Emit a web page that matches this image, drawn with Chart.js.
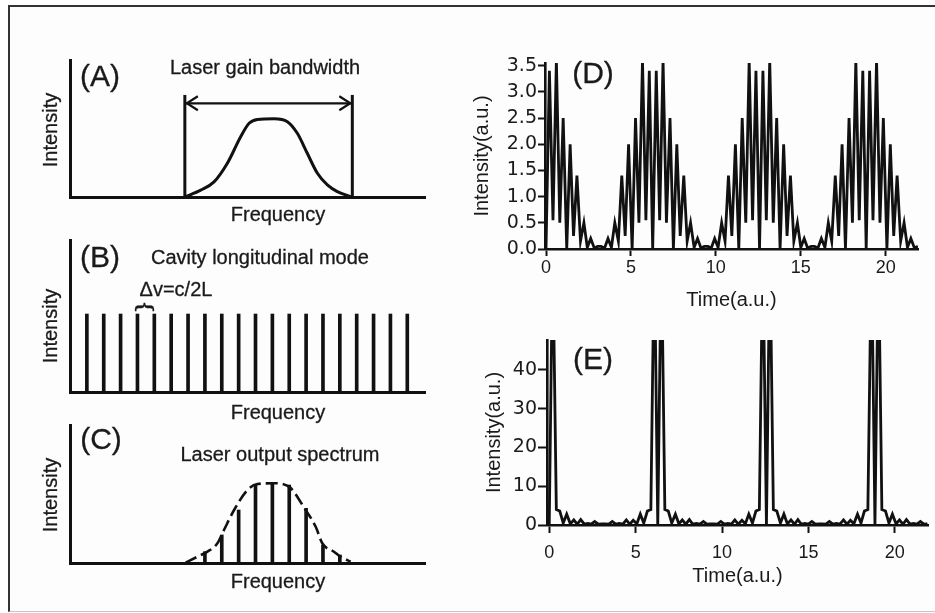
<!DOCTYPE html>
<html>
<head>
<meta charset="utf-8">
<script src="https://cdn.jsdelivr.net/npm/chart.js@4.4.1/dist/chart.umd.min.js"></script>
<style>
  body { margin:0; width:935px; height:613px; background:#fff; position:relative; overflow:hidden;
         font-family:"Liberation Sans", Arial, sans-serif; }
  #frame { position:absolute; left:8px; top:5px; width:927px; height:607px; box-sizing:border-box;
           border-left:2.5px solid #333; border-top:2.5px solid #333; border-bottom:1px solid #c6c6c6;
           background:#fdfdfd; }
  canvas { position:absolute; }
  .lbl { position:absolute; transform:translate(-50%,-50%); white-space:nowrap; line-height:1;
         color:#1a1a1a; font-size:20px; z-index:2; -webkit-text-stroke:0.3px #1a1a1a; }
  .panel { font-size:30px; }
  .rot { transform:translate(-50%,-50%) rotate(-90deg); }
  .brace { transform:translate(-50%,-50%) rotate(90deg) scaleX(1.35); font-size:20px; }
</style>
</head>
<body>
<div id="frame"></div>

<canvas id="chartA" width="420" height="185" style="left:20px;top:45px"></canvas>
<canvas id="chartB" width="420" height="180" style="left:20px;top:230px"></canvas>
<canvas id="chartC" width="420" height="160" style="left:20px;top:415px"></canvas>
<canvas id="chartD" width="465" height="270" style="left:465px;top:45px"></canvas>
<canvas id="chartE" width="470" height="280" style="left:465px;top:320px"></canvas>

<!-- tekster til de tre skitser til venstre -->
<div class="lbl panel" style="left:100px;top:76px">(A)</div>
<div class="lbl" style="left:265px;top:67px">Laser gain bandwidth</div>
<div class="lbl rot" style="left:50px;top:130px">Intensity</div>
<div class="lbl" style="left:278px;top:214px">Frequency</div>

<div class="lbl panel" style="left:100px;top:257px">(B)</div>
<div class="lbl" style="left:260px;top:257px">Cavity longitudinal mode</div>
<div class="lbl" style="left:176px;top:289px">Δv=c/2L</div>
<div class="lbl brace" style="left:146px;top:307px">{</div>
<div class="lbl rot" style="left:50px;top:326px">Intensity</div>
<div class="lbl" style="left:278px;top:412px">Frequency</div>

<div class="lbl panel" style="left:101px;top:439px">(C)</div>
<div class="lbl" style="left:280px;top:454px">Laser output spectrum</div>
<div class="lbl rot" style="left:50px;top:495px">Intensity</div>
<div class="lbl" style="left:278px;top:581px">Frequency</div>

<div class="lbl panel" style="left:593px;top:73px">(D)</div>
<div class="lbl panel" style="left:593px;top:359px">(E)</div>

<script>
// -------------------------------------------------------------
// DATA
// frekvens-aksen i (A)-(C) er talt i mode-numre, intensitet 0..1
// -------------------------------------------------------------
var gainCurveX = [6.81, 7.75, 8.54, 9.33, 10.12, 10.62, 11.11, 12.10, 12.89, 13.48, 14.07, 14.67, 15.26, 15.85, 16.72];
var gainCurveY = [0, 0.05, 0.11, 0.246, 0.44, 0.538, 0.566, 0.571, 0.55, 0.465, 0.319, 0.173, 0.088, 0.039, 0];
var gainEdges = [6.81, 16.74];
var gainEdgeTop = 0.745;
var gainArrowLevel = 0.684;

var modeNumbers = [1, 2, 3, 4, 5, 6, 7, 8, 9, 10, 11, 12, 13, 14, 15, 16, 17, 18, 19, 20];
var modeIntensity = 0.513;

var outputModes = [8, 9, 10, 11, 12, 13, 14, 15, 16];
var outputIntensity = [0.082, 0.203, 0.384, 0.565, 0.578, 0.565, 0.396, 0.13, 0.058];
var envelopeX = [6.86, 7.56, 8.15, 8.74, 9.13, 9.73, 10.52, 11.11, 12.10, 12.98, 13.97, 14.57, 14.96, 15.65, 16.05, 16.64];
var envelopeY = [0.002, 0.046, 0.082, 0.143, 0.239, 0.384, 0.529, 0.572, 0.578, 0.553, 0.384, 0.263, 0.143, 0.082, 0.046, 0.009];

// tidsakse for (D) og (E)
var sampleTimes = [
  0, 0.20, 0.41, 0.61, 0.81, 1.01, 1.22, 1.42, 1.62, 1.82,
  2.03, 2.23, 2.43, 2.63, 2.84, 3.04, 3.24, 3.45, 3.65, 3.85,
  4.05, 4.26, 4.46, 4.66, 4.86, 5.07, 5.27, 5.47, 5.68, 5.88,
  6.08, 6.28, 6.49, 6.69, 6.89, 7.09, 7.30, 7.50, 7.70, 7.90,
  8.11, 8.31, 8.51, 8.72, 8.92, 9.12, 9.32, 9.53, 9.73, 9.93,
  10.13, 10.34, 10.54, 10.74, 10.94, 11.15, 11.35, 11.55, 11.76, 11.96,
  12.16, 12.36, 12.57, 12.77, 12.97, 13.17, 13.38, 13.58, 13.78, 13.99,
  14.19, 14.39, 14.59, 14.80, 15.00, 15.20, 15.40, 15.61, 15.81, 16.01,
  16.21, 16.42, 16.62, 16.82, 17.03, 17.23, 17.43, 17.63, 17.84, 18.04,
  18.24, 18.44, 18.65, 18.85, 19.05, 19.25, 19.46, 19.66, 19.86, 20.07,
  20.27, 20.47, 20.67, 20.88, 21.08, 21.28, 21.48, 21.69, 21.89
];
var intensityD = [
  0, 3.4, 0.55, 3.6, 0.5, 2.5, 0, 2.0, 0.25, 1.4, 0.15, 0.5, 0.03, 0.2, 0.02, 0.05,
  0.05, 0.02, 0.2, 0.03, 0.5, 0.15, 1.4, 0.25, 2.0, 0, 2.5, 0.5, 3.6, 0.55, 3.4,
  0, 3.4, 0.55, 3.6, 0.5, 2.5, 0, 2.0, 0.25, 1.4, 0.15, 0.5, 0.03, 0.2, 0.02, 0.05,
  0.05, 0.02, 0.2, 0.03, 0.5, 0.15, 1.4, 0.25, 2.0, 0, 2.5, 0.5, 3.6, 0.55, 3.4,
  0, 3.4, 0.55, 3.6, 0.5, 2.5, 0, 2.0, 0.25, 1.4, 0.15, 0.5, 0.03, 0.2, 0.02, 0.05,
  0.05, 0.02, 0.2, 0.03, 0.5, 0.15, 1.4, 0.25, 2.0, 0, 2.5, 0.5, 3.6, 0.55, 3.4,
  0, 3.4, 0.55, 3.6, 0.5, 2.5, 0, 2.0, 0.25, 1.4, 0.15, 0.5, 0.03, 0.2, 0.02, 0.05
];
var intensityE = [
  0, 72, 4.0, 3.6, 0.5, 2.8, 0.3, 1.3, 0.2, 1.4, 0.2, 0.4, 0.2, 0.9, 0.2, 0.3,
  0.3, 0.2, 0.9, 0.2, 0.4, 0.2, 1.3, 0.2, 1.2, 0.3, 2.8, 0.5, 3.6, 4.0, 72,
  0, 72, 4.0, 3.6, 0.5, 2.8, 0.3, 1.3, 0.2, 1.4, 0.2, 0.4, 0.2, 0.9, 0.2, 0.3,
  0.3, 0.2, 0.9, 0.2, 0.4, 0.2, 1.3, 0.2, 1.2, 0.3, 2.8, 0.5, 3.6, 4.0, 72,
  0, 72, 4.0, 3.6, 0.5, 2.8, 0.3, 1.3, 0.2, 1.4, 0.2, 0.4, 0.2, 0.9, 0.2, 0.3,
  0.3, 0.2, 0.9, 0.2, 0.4, 0.2, 1.3, 0.2, 1.2, 0.3, 2.8, 0.5, 3.6, 4.0, 72,
  0, 72, 4.0, 3.6, 0.5, 2.8, 0.3, 1.3, 0.2, 1.4, 0.2, 0.4, 0.2, 0.9, 0.2, 0.3
];

var ink = '#111';
Chart.defaults.font.family = '"Liberation Sans", Arial, sans-serif';
Chart.defaults.color = '#1a1a1a';

// lav {x,y} punkter ud fra to lister
function pairs(xs, ys) {
  return xs.map(function (x, i) { return {x: x, y: ys[i]}; });
}

// pilehoveder i begge ender af et linje-datasæt (åbne "chevrons")
var arrowHeads = {
  id: 'arrowHeads',
  afterDatasetsDraw: function (chart, args, opts) {
    var pts = chart.getDatasetMeta(opts.index).data;
    var a = pts[0], b = pts[pts.length - 1];
    var ctx = chart.ctx;
    ctx.save();
    ctx.strokeStyle = ink;
    ctx.lineWidth = 2.2;
    ctx.beginPath();
    ctx.moveTo(a.x + 13, a.y - 7); ctx.lineTo(a.x + 2, a.y); ctx.lineTo(a.x + 13, a.y + 7);
    ctx.moveTo(b.x - 13, b.y - 7); ctx.lineTo(b.x - 2, b.y); ctx.lineTo(b.x - 13, b.y + 7);
    ctx.stroke();
    ctx.restore();
  }
};

// akser til skitserne: kun en tyk akselinje, ingen ticks
function sketchScales(xHeight) {
  return {
    x: {type: 'linear', min: 0, max: 21.05, offset: false,
        ticks: {display: false}, grid: {drawOnChartArea: false, drawTicks: false, offset: false},
        border: {color: ink, width: 3},
        afterFit: function (s) { s.height = xHeight; }},
    y: {min: 0, max: 1,
        ticks: {display: false}, grid: {drawOnChartArea: false, drawTicks: false},
        border: {color: ink, width: 3},
        afterFit: function (s) { s.width = 50; }}
  };
}

function baseOptions(padding, scales) {
  return {
    animation: false, responsive: false, events: [],
    layout: {padding: padding},
    plugins: {legend: {display: false}, tooltip: {enabled: false}},
    scales: scales
  };
}

// ---------------- (A) forstærkningsbåndbredde ----------------
var optsA = baseOptions({top: 15, right: 15, left: 0, bottom: 0}, sketchScales(33));
optsA.plugins.arrowHeads = {index: 3};
new Chart(document.getElementById('chartA'), {
  type: 'line',
  data: {datasets: [
    {data: pairs(gainCurveX, gainCurveY), borderColor: ink, borderWidth: 3, pointRadius: 0, cubicInterpolationMode: 'monotone'},
    {data: pairs([gainEdges[0], gainEdges[0]], [0, gainEdgeTop]), borderColor: ink, borderWidth: 3, pointRadius: 0},
    {data: pairs([gainEdges[1], gainEdges[1]], [0, gainEdgeTop]), borderColor: ink, borderWidth: 3, pointRadius: 0},
    {data: pairs(gainEdges, [gainArrowLevel, gainArrowLevel]), borderColor: ink, borderWidth: 2.2, pointRadius: 0}
  ]},
  options: optsA,
  plugins: [arrowHeads]
});

// ---------------- (B) longitudinale modes ----------------
new Chart(document.getElementById('chartB'), {
  type: 'bar',
  data: {datasets: [
    {data: modeNumbers.map(function (n) { return {x: n, y: modeIntensity}; }), backgroundColor: ink, barThickness: 3}
  ]},
  options: baseOptions({top: 10, right: 15, left: 0, bottom: 0}, sketchScales(18))
});

// ---------------- (C) udgangsspektrum ----------------
new Chart(document.getElementById('chartC'), {
  type: 'bar',
  data: {datasets: [
    {type: 'line', data: pairs(envelopeX, envelopeY), borderColor: ink, borderWidth: 2.6, borderDash: [12, 5],
     pointRadius: 0, cubicInterpolationMode: 'monotone'},
    {data: pairs(outputModes, outputIntensity), backgroundColor: ink, barThickness: 3}
  ]},
  options: baseOptions({top: 10, right: 15, left: 0, bottom: 0}, sketchScales(12))
});

// ---------------- (D) og (E) tidssignaler ----------------
function timeScales(o) {
  return {
    x: {type: 'linear', min: o.xmin, max: o.xmax, offset: false,
        ticks: {stepSize: 5, includeBounds: false, padding: o.xpad, font: {size: 18}},
        grid: {drawOnChartArea: false, tickLength: o.xtick, tickWidth: 2, tickColor: ink},
        border: {color: ink, width: 2.6},
        title: {display: true, text: 'Time(a.u.)', font: {size: 20}, padding: {top: 0, bottom: o.xtitle}},
        afterFit: function (s) { s.height = o.xh; }},
    y: {min: 0, max: o.ymax,
        ticks: {stepSize: o.ystep, includeBounds: false, padding: 1,
                font: {size: 19, family: '"DejaVu Sans", sans-serif'}, callback: o.yfmt},
        grid: {drawOnChartArea: false, tickLength: o.ytick, tickWidth: 2, tickColor: ink},
        border: {color: ink, width: 2.6},
        title: {display: true, text: 'Intensity(a.u.)', font: {size: 20}, padding: {top: o.ytitle, bottom: 0}},
        afterFit: function (s) { s.width = o.yw; }}
  };
}

new Chart(document.getElementById('chartD'), {
  type: 'line',
  data: {datasets: [
    {data: pairs(sampleTimes, intensityD), borderColor: ink, borderWidth: 2.8, pointRadius: 0, tension: 0}
  ]},
  options: baseOptions({top: 18, right: 12, left: 0, bottom: 0}, timeScales({
    xmin: -0.06, xmax: 21.9, xpad: 1, xtick: 7, xtitle: 3, xh: 66,
    ymax: 3.55, ystep: 0.5, ytick: 7, ytitle: 5.5, yw: 80,
    yfmt: function (v) { return v.toFixed(1); }
  }))
});

new Chart(document.getElementById('chartE'), {
  type: 'line',
  data: {datasets: [
    {data: pairs(sampleTimes, intensityE), borderColor: ink, borderWidth: 2.8, pointRadius: 0, tension: 0}
  ]},
  options: baseOptions({top: 20, right: 7, left: 0, bottom: 0}, timeScales({
    xmin: -0.13, xmax: 21.92, xpad: 9, xtick: 8, xtitle: 12, xh: 75,
    ymax: 47.7, ystep: 10, ytick: 9, ytitle: 17, yw: 82,
    yfmt: function (v) { return String(v); }
  }))
});
</script>
</body>
</html>
